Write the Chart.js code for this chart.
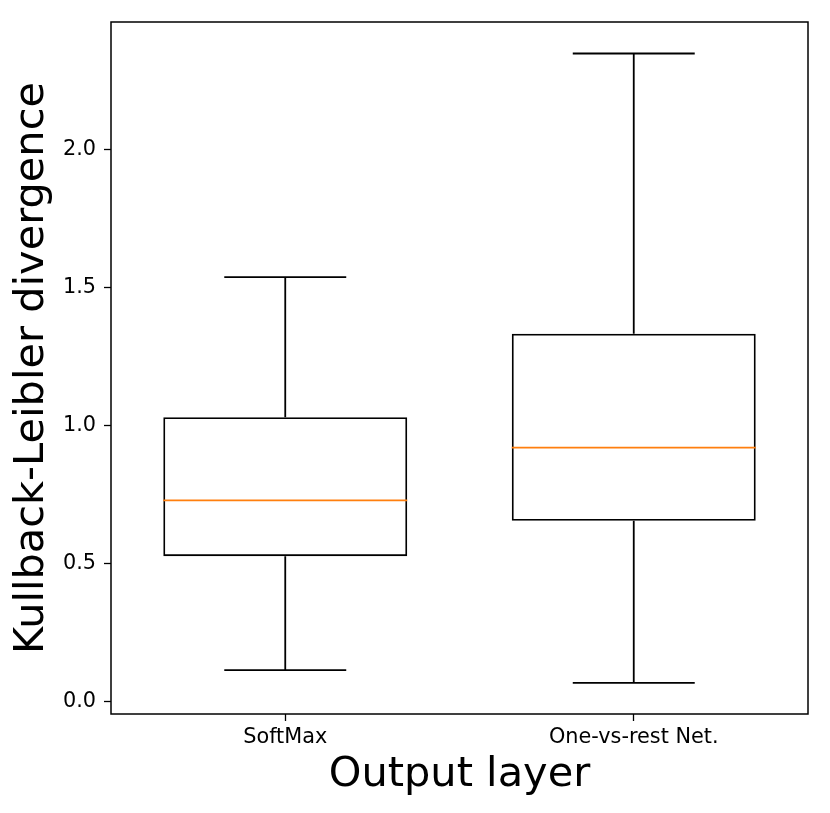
<!DOCTYPE html>
<html>
<head>
<meta charset="utf-8">
<script src="https://cdn.jsdelivr.net/npm/chart.js@4/dist/chart.umd.min.js"></script>
<style>
html, body { margin: 0; padding: 0; background: #ffffff; }
canvas { display: block; }
</style>
</head>
<body>
<canvas id="c" width="830" height="813"></canvas>
<script>
const categories = ['SoftMax', 'One-vs-rest Net.'];
const whiskerLow = [0.114, 0.068];
const q1 = [0.527, 0.655];
const median = [0.729, 0.920];
const q3 = [1.030, 1.332];
const whiskerHigh = [1.537, 2.347];
const yTicks = [0.0, 0.5, 1.0, 1.5, 2.0];

const boxData = categories.map((_, i) => [q1[i], q3[i]]);

const boxplotPlugin = {
  id: 'boxplotExtras',
  afterDatasetsDraw(chart) {
    const ctx = chart.ctx;
    const xs = chart.scales.x, ys = chart.scales.y;
    const catW = xs.width / categories.length;
    const boxW = catW * 0.7;
    const capW = boxW / 2;
    ctx.save();
    ctx.lineCap = 'butt';
    for (let i = 0; i < categories.length; i++) {
      const cx = xs.getPixelForValue(i);
      ctx.strokeStyle = '#000000';
      ctx.lineWidth = 1.8;
      ctx.beginPath();
      ctx.moveTo(cx, ys.getPixelForValue(q3[i]));
      ctx.lineTo(cx, ys.getPixelForValue(whiskerHigh[i]));
      ctx.moveTo(cx, ys.getPixelForValue(q1[i]));
      ctx.lineTo(cx, ys.getPixelForValue(whiskerLow[i]));
      ctx.moveTo(cx - capW / 2, ys.getPixelForValue(whiskerHigh[i]));
      ctx.lineTo(cx + capW / 2, ys.getPixelForValue(whiskerHigh[i]));
      ctx.moveTo(cx - capW / 2, ys.getPixelForValue(whiskerLow[i]));
      ctx.lineTo(cx + capW / 2, ys.getPixelForValue(whiskerLow[i]));
      ctx.stroke();
      ctx.strokeStyle = '#ff7f0e';
      ctx.beginPath();
      ctx.moveTo(cx - boxW / 2, ys.getPixelForValue(median[i]));
      ctx.lineTo(cx + boxW / 2, ys.getPixelForValue(median[i]));
      ctx.stroke();
    }
    const a = chart.chartArea;
    ctx.strokeStyle = '#000000';
    ctx.lineWidth = 1.5;
    ctx.strokeRect(a.left, a.top, a.right - a.left, a.bottom - a.top);
    ctx.restore();
  }
};

const bgPlugin = {
  id: 'bg',
  beforeDraw(chart) {
    const ctx = chart.ctx;
    ctx.save();
    ctx.fillStyle = '#ffffff';
    ctx.fillRect(0, 0, chart.width, chart.height);
    ctx.restore();
  }
};

new Chart(document.getElementById('c'), {
  type: 'bar',
  data: {
    labels: categories,
    datasets: [{
      data: boxData,
      backgroundColor: 'rgba(0,0,0,0)',
      borderColor: '#000000',
      borderWidth: 1.8,
      borderSkipped: false,
      barPercentage: 0.7,
      categoryPercentage: 1.0
    }]
  },
  options: {
    responsive: false,
    animation: false,
    layout: { padding: { top: 22, right: 22, left: 0, bottom: 0 } },
    plugins: { legend: { display: false }, tooltip: { enabled: false } },
    scales: {
      x: {
        type: 'category',
        offset: true,
        grid: { display: true, drawOnChartArea: false, color: '#000000', tickLength: 7, tickWidth: 1.3, offset: false },
        border: { display: false },
        ticks: { color: '#000000', padding: 4, maxRotation: 0, font: { family: 'DejaVu Sans', size: 20.8 } },
        title: { display: true, text: 'Output layer', color: '#000000', padding: { top: 0, bottom: 12.6 }, font: { family: 'DejaVu Sans', size: 41.5 } },
        afterFit(scale) { scale.height = 99; }
      },
      y: {
        type: 'linear',
        min: -0.0445,
        max: 2.461,
        grid: { display: true, drawOnChartArea: false, color: '#000000', tickLength: 7, tickWidth: 1.3 },
        border: { display: false },
        afterBuildTicks(scale) { scale.ticks = yTicks.map(v => ({ value: v })); },
        ticks: {
          color: '#000000', padding: 8,
          font: { family: 'DejaVu Sans', size: 20.8 },
          callback: (v) => Number(v).toFixed(1)
        },
        title: { display: true, text: 'Kullback-Leibler divergence', color: '#000000', padding: { top: 7, bottom: 0 }, font: { family: 'DejaVu Sans', size: 41.5 } },
        afterFit(scale) { scale.width = 111; }
      }
    }
  },
  plugins: [bgPlugin, boxplotPlugin]
});
</script>
</body>
</html>
